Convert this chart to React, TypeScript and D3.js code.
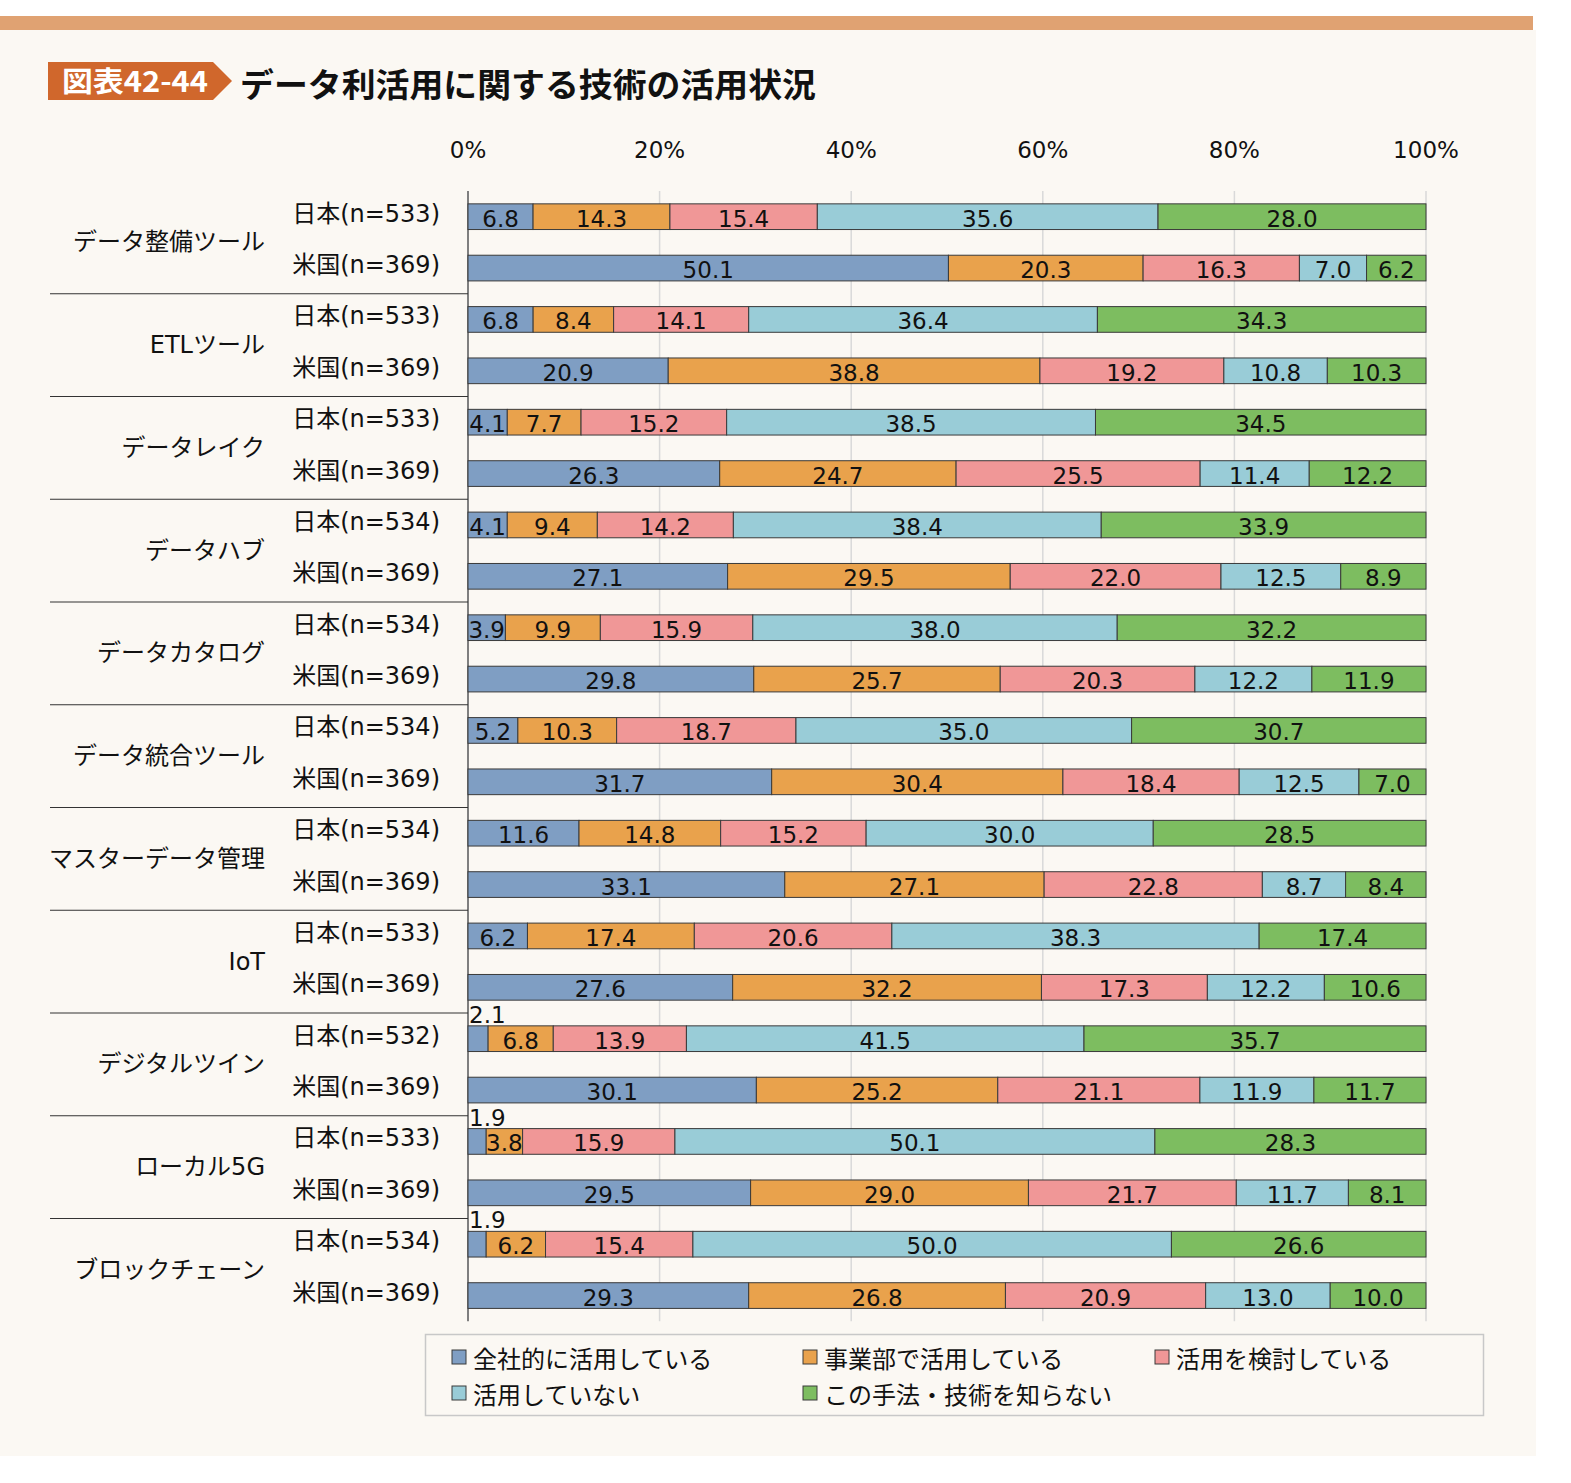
import React from "react";
import * as d3 from "d3";

const categories = [
  "データ整備ツール",
  "ETLツール",
  "データレイク",
  "データハブ",
  "データカタログ",
  "データ統合ツール",
  "マスターデータ管理",
  "IoT",
  "デジタルツイン",
  "ローカル5G",
  "ブロックチェーン",
];

const japanN = [533, 533, 533, 534, 534, 534, 534, 533, 532, 533, 534];
const usN = [369, 369, 369, 369, 369, 369, 369, 369, 369, 369, 369];

const seriesNames = [
  "全社的に活用している",
  "事業部で活用している",
  "活用を検討している",
  "活用していない",
  "この手法・技術を知らない",
];

const japanValues = [
  [6.8, 14.3, 15.4, 35.6, 28.0],
  [6.8, 8.4, 14.1, 36.4, 34.3],
  [4.1, 7.7, 15.2, 38.5, 34.5],
  [4.1, 9.4, 14.2, 38.4, 33.9],
  [3.9, 9.9, 15.9, 38.0, 32.2],
  [5.2, 10.3, 18.7, 35.0, 30.7],
  [11.6, 14.8, 15.2, 30.0, 28.5],
  [6.2, 17.4, 20.6, 38.3, 17.4],
  [2.1, 6.8, 13.9, 41.5, 35.7],
  [1.9, 3.8, 15.9, 50.1, 28.3],
  [1.9, 6.2, 15.4, 50.0, 26.6],
];

const usValues = [
  [50.1, 20.3, 16.3, 7.0, 6.2],
  [20.9, 38.8, 19.2, 10.8, 10.3],
  [26.3, 24.7, 25.5, 11.4, 12.2],
  [27.1, 29.5, 22.0, 12.5, 8.9],
  [29.8, 25.7, 20.3, 12.2, 11.9],
  [31.7, 30.4, 18.4, 12.5, 7.0],
  [33.1, 27.1, 22.8, 8.7, 8.4],
  [27.6, 32.2, 17.3, 12.2, 10.6],
  [30.1, 25.2, 21.1, 11.9, 11.7],
  [29.5, 29.0, 21.7, 11.7, 8.1],
  [29.3, 26.8, 20.9, 13.0, 10.0],
];

const ticks = [0, 20, 40, 60, 80, 100];
const colors = ["#7f9ec3", "#e9a24c", "#f09797", "#99ccd7", "#7dbd60"];

const LATIN = "'DejaVu Sans', 'Noto Sans CJK JP', sans-serif";
const CJK = "'Noto Sans CJK JP', 'DejaVu Sans', sans-serif";

export default function App() {
  const W = 1571;
  const H = 1483;
  const x = d3.scaleLinear().domain([0, 100]).range([468, 1426]);
  const top = 191;
  const groupH = 102.75;
  const bottom = top + groupH * categories.length;

  const rows: { label: string; n: number; values: number[]; g: number; idx: number }[] = [];
  categories.forEach((c, i) => {
    rows.push({ label: "日本", n: japanN[i], values: japanValues[i], g: i, idx: i * 2 });
    rows.push({ label: "米国", n: usN[i], values: usValues[i], g: i, idx: i * 2 + 1 });
  });

  const y = d3
    .scaleBand<number>()
    .domain(rows.map((r) => r.idx))
    .range([top, bottom])
    .paddingInner(0.5)
    .paddingOuter(0.25);

  const legendCols = [452, 803, 1155];
  const legendRows = [1357, 1393];

  return (
    <svg
      width={W}
      height={H}
      style={{ position: "absolute", left: 0, top: 0, background: "#ffffff" }}
    >
      <rect x={0} y={30} width={1536} height={1426} fill="#fbf8f3" />
      <rect x={0} y={16} width={1533} height={14} fill="#e0a272" />

      {/* title */}
      <path d="M48,62 L213,62 L232,81 L213,100 L48,100 Z" fill="#d0672c" />
      <text
        x={62}
        y={92}
        fontFamily={CJK}
        fontWeight={700}
        fontSize={28}
        fill="#ffffff"
        textLength={146}
        lengthAdjust="spacingAndGlyphs"
      >
        図表42-44
      </text>
      <text
        x={240}
        y={97}
        fontFamily={CJK}
        fontWeight={700}
        fontSize={33}
        fill="#111"
        textLength={576}
        lengthAdjust="spacingAndGlyphs"
      >
        データ利活用に関する技術の活用状況
      </text>

      {/* gridlines */}
      {ticks.map((t) => (
        <g key={t}>
          {t > 0 && (
            <line x1={x(t)} x2={x(t)} y1={top} y2={bottom} stroke="#d9d9d9" strokeWidth={1.5} />
          )}
          <text
            x={x(t)}
            y={150}
            textAnchor="middle"
            dominantBaseline="central"
            fontFamily={LATIN}
            fontSize={23}
            fill="#111"
          >
            {t}%
          </text>
        </g>
      ))}
      <line x1={x(0)} x2={x(0)} y1={top} y2={bottom} stroke="#7f7f7f" strokeWidth={2} />

      {/* group separators and labels */}
      {categories.map((c, i) => (
        <g key={c}>
          {i > 0 && (
            <line
              x1={50}
              x2={468}
              y1={top + i * groupH}
              y2={top + i * groupH}
              stroke="#333"
              strokeWidth={1.2}
            />
          )}
          <text
            x={265}
            y={top + i * groupH + groupH / 2}
            textAnchor="end"
            dominantBaseline="central"
            fontFamily={LATIN}
            fontSize={24}
            fill="#111"
          >
            {c}
          </text>
        </g>
      ))}

      {/* bars */}
      {rows.map((r) => {
        const y0 = y(r.idx) as number;
        const bh = y.bandwidth();
        const total = d3.sum(r.values);
        const cum = d3.cumsum(r.values.map((v) => (v / total) * 100));
        return (
          <g key={r.idx}>
            <text
              x={440}
              y={y0 + bh / 2 - 3}
              textAnchor="end"
              dominantBaseline="central"
              fontFamily={LATIN}
              fontSize={24}
              fill="#111"
            >
              {`${r.label}(n=${r.n})`}
            </text>
            {r.values.map((v, k) => {
              const a = k === 0 ? 0 : cum[k - 1];
              const b = cum[k];
              const x0 = x(a);
              const x1 = x(b);
              const small = v < 3;
              return (
                <g key={k}>
                  <rect
                    x={x0}
                    y={y0}
                    width={x1 - x0}
                    height={bh}
                    fill={colors[k]}
                    stroke="#3a3a3a"
                    strokeWidth={1}
                  />
                  {small ? (
                    <text
                      x={x0 + 1}
                      y={y0 - 3}
                      fontFamily={LATIN}
                      fontSize={23}
                      fill="#111"
                    >
                      {v.toFixed(1)}
                    </text>
                  ) : (
                    <text
                      x={(x0 + x1) / 2}
                      y={y0 + bh / 2 + 2}
                      textAnchor="middle"
                      dominantBaseline="central"
                      fontFamily={LATIN}
                      fontSize={23}
                      fill="#111"
                    >
                      {v.toFixed(1)}
                    </text>
                  )}
                </g>
              );
            })}
          </g>
        );
      })}

      {/* legend */}
      <rect
        x={425.5}
        y={1334.5}
        width={1058}
        height={81}
        fill="none"
        stroke="#c8c8c8"
        strokeWidth={1.5}
      />
      {seriesNames.map((s, k) => {
        const cx = legendCols[k % 3];
        const cy = legendRows[Math.floor(k / 3)];
        return (
          <g key={s}>
            <rect
              x={cx}
              y={cy - 7}
              width={14}
              height={14}
              fill={colors[k]}
              stroke="#3a3a3a"
              strokeWidth={1}
            />
            <text
              x={cx + 21}
              y={cy}
              dominantBaseline="central"
              fontFamily={CJK}
              fontSize={24}
              fill="#111"
            >
              {s}
            </text>
          </g>
        );
      })}
    </svg>
  );
}
